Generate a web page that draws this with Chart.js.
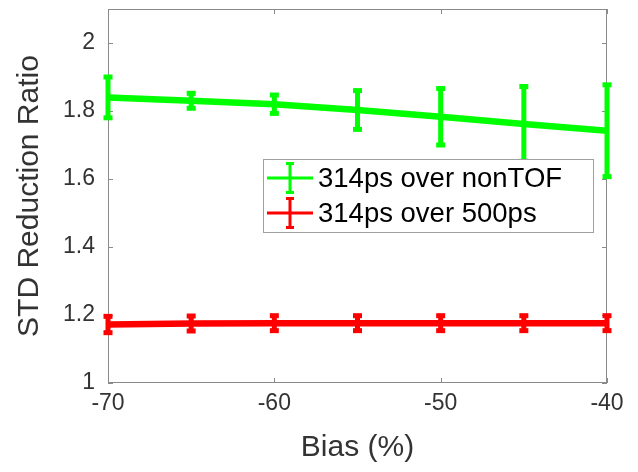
<!DOCTYPE html>
<html>
<head>
<meta charset="utf-8">
<script src="https://cdn.jsdelivr.net/npm/chart.js@4"></script>
<style>
html, body { margin: 0; padding: 0; background: #fff; }
</style>
</head>
<body>
<canvas id="grafico" width="638" height="472"></canvas>
<script>
// values
const biasValues = [-70, -65, -60, -55, -50, -45, -40];
const nonTofRatio = [1.840, 1.830, 1.820, 1.803, 1.783, 1.762, 1.742];
const nonTofError = [0.060, 0.022, 0.027, 0.057, 0.083, 0.110, 0.135];
const ps500Ratio = [1.172, 1.175, 1.176, 1.176, 1.176, 1.176, 1.176];
const ps500Error = [0.024, 0.022, 0.022, 0.022, 0.022, 0.022, 0.022];
const seriesLabels = ['314ps over nonTOF', '314ps over 500ps'];
const xTicks = [-70, -60, -50, -40];
const yTicks = [1, 1.2, 1.4, 1.6, 1.8, 2];

const FONT = "'Liberation Sans', Arial, Helvetica, sans-serif";
const AXIS_GRAY = '#8a8a8a';

// box round the plot with inward ticks, as matlab draws it
const frameBox = {
    id: 'frameBox',
    beforeDatasetsDraw(chart) {
        const ctx = chart.ctx, a = chart.chartArea;
        const x = chart.scales.x, y = chart.scales.y;
        ctx.save();
        ctx.strokeStyle = AXIS_GRAY;
        ctx.lineWidth = 1;
        ctx.strokeRect(a.left + 0.5, a.top + 0.5, a.right - a.left - 1, a.bottom - a.top - 1);
        ctx.beginPath();
        xTicks.forEach(v => {
            const px = Math.round(x.getPixelForValue(v)) + 0.5;
            ctx.moveTo(px, a.bottom); ctx.lineTo(px, a.bottom - 5);
            ctx.moveTo(px, a.top); ctx.lineTo(px, a.top + 5);
        });
        yTicks.forEach(v => {
            const py = Math.round(y.getPixelForValue(v)) + 0.5;
            ctx.moveTo(a.left, py); ctx.lineTo(a.left + 5, py);
            ctx.moveTo(a.right, py); ctx.lineTo(a.right - 5, py);
        });
        ctx.stroke();
        ctx.restore();
    }
};

const errorBars = {
    id: 'errorBars',
    afterDatasetsDraw(chart) {
        const ctx = chart.ctx, x = chart.scales.x, y = chart.scales.y;
        chart.data.datasets.forEach(ds => {
            ctx.save();
            ctx.strokeStyle = ds.borderColor;
            ctx.fillStyle = ds.borderColor;
            ctx.lineWidth = 5;
            ds.data.forEach((p, i) => {
                const px = x.getPixelForValue(p.x);
                const top = y.getPixelForValue(p.y + ds.errors[i]);
                const bot = y.getPixelForValue(p.y - ds.errors[i]);
                ctx.beginPath();
                ctx.moveTo(px, top);
                ctx.lineTo(px, bot);
                ctx.stroke();
                ctx.fillRect(px - 4.5, top - 2.5, 9, 5);
                ctx.fillRect(px - 4.5, bot - 2.5, 9, 5);
            });
            ctx.restore();
        });
    }
};

// legend box inside the plot
const boxLegend = {
    id: 'boxLegend',
    afterDraw(chart) {
        const ctx = chart.ctx;
        const left = 263, top = 159, w = 330, h = 73;
        ctx.save();
        ctx.fillStyle = '#fff';
        ctx.fillRect(left, top, w, h);
        ctx.strokeStyle = '#a0a0a0';
        ctx.lineWidth = 1;
        ctx.strokeRect(left + 0.5, top + 0.5, w, h);
        chart.data.datasets.forEach((ds, i) => {
            const cy = 178 + i * 35;
            ctx.strokeStyle = ds.borderColor;
            ctx.fillStyle = ds.borderColor;
            ctx.lineWidth = 3;
            ctx.beginPath();
            ctx.moveTo(267, cy); ctx.lineTo(313, cy);
            ctx.moveTo(290, cy - 15); ctx.lineTo(290, cy + 15);
            ctx.stroke();
            ctx.fillRect(286, cy - 16, 8, 3);
            ctx.fillRect(286, cy + 13, 8, 3);
            ctx.fillStyle = '#000';
            ctx.font = '27.5px ' + FONT;
            ctx.textBaseline = 'middle';
            ctx.fillText(ds.label, 318, cy + 1);
        });
        ctx.restore();
    }
};

document.addEventListener('DOMContentLoaded', function () {
    const ctx = document.getElementById('grafico').getContext('2d');
    new Chart(ctx, {
        type: 'line',
        data: {
            datasets: [{
                label: seriesLabels[0],
                data: biasValues.map((b, i) => ({ x: b, y: nonTofRatio[i] })),
                errors: nonTofError,
                borderColor: '#00ff00',
                borderWidth: 6.5,
                pointRadius: 0,
                tension: 0
            }, {
                label: seriesLabels[1],
                data: biasValues.map((b, i) => ({ x: b, y: ps500Ratio[i] })),
                errors: ps500Error,
                borderColor: '#ff0000',
                borderWidth: 6.5,
                pointRadius: 0,
                tension: 0
            }]
        },
        options: {
            responsive: false,
            animation: false,
            devicePixelRatio: 1,
            layout: { padding: { top: 9, right: 31, left: 0, bottom: 0 } },
            plugins: {
                legend: { display: false },
                tooltip: { enabled: false }
            },
            scales: {
                x: {
                    type: 'linear',
                    min: -70,
                    max: -40,
                    afterBuildTicks: scale => { scale.ticks = xTicks.map(v => ({ value: v })); },
                    afterFit: scale => {
                        scale.height = 89;
                        scale.paddingLeft = 0;
                        scale.paddingRight = 0;
                    },
                    grid: { display: false, drawTicks: false },
                    border: { display: false },
                    ticks: {
                        color: '#333',
                        padding: 7,
                        maxRotation: 0,
                        font: { family: FONT, size: 23 }
                    },
                    title: {
                        display: true,
                        text: 'Bias (%)',
                        color: '#333',
                        padding: { top: 0, bottom: 6 },
                        font: { family: FONT, size: 30 }
                    }
                },
                y: {
                    type: 'linear',
                    min: 1,
                    max: 2.1,
                    afterBuildTicks: scale => { scale.ticks = yTicks.map(v => ({ value: v })); },
                    afterFit: scale => {
                        scale.width = 108;
                        scale.paddingTop = 0;
                        scale.paddingBottom = 0;
                    },
                    grid: { display: false, drawTicks: false },
                    border: { display: false },
                    ticks: {
                        color: '#333',
                        padding: 13,
                        font: { family: FONT, size: 23 },
                        callback: v => String(Math.round(v * 10) / 10)
                    },
                    title: {
                        display: true,
                        text: 'STD Reduction Ratio',
                        color: '#333',
                        padding: { top: 12, bottom: 0 },
                        font: { family: FONT, size: 30 }
                    }
                }
            }
        },
        plugins: [frameBox, errorBars, boxLegend]
    });
});
</script>
</body>
</html>
